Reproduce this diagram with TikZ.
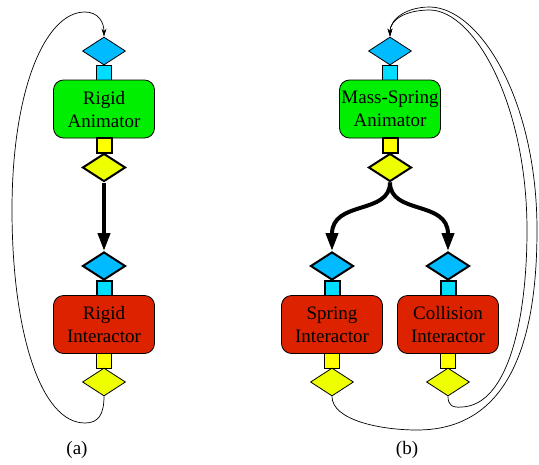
\documentclass[tikz,border=0pt]{standalone}
\usepackage{fontspec}
\setmainfont{Liberation Serif}
\usetikzlibrary{shapes.geometric,arrows.meta}

\definecolor{portblue}{HTML}{00BBFF}
\definecolor{plugcyan}{HTML}{00DDFF}
\definecolor{animgreen}{HTML}{00EE00}
\definecolor{interred}{HTML}{DD2200}
\definecolor{plugyellow}{HTML}{FFFF00}
\definecolor{portyellow}{HTML}{EEFF00}

\tikzset{
	unitbox/.style={draw, line width=0.8pt, rounded corners=10pt, minimum width=101pt, minimum height=58pt, inner sep=0pt, align=center, font=\fontsize{19}{23}\selectfont},
	animator/.style={unitbox, fill=animgreen},
	interactor/.style={unitbox, fill=interred},
	inport/.style={diamond, draw, line width=0.8pt, fill=portblue, minimum width=43pt, minimum height=28pt, inner sep=0pt},
	outport/.style={inport, fill=portyellow},
	inplug/.style={draw, line width=0.8pt, fill=plugcyan, minimum width=15pt, minimum height=15pt, inner sep=0pt},
	outplug/.style={inplug, fill=plugyellow},
	linked/.style={line width=2pt},
	flow/.style={line width=4pt, -{Triangle[length=18pt,width=12pt]}},
	feedback/.style={line width=0.7pt, -{Stealth[length=8pt,width=5pt]}},
	caption/.style={font=\fontsize{19}{23}\selectfont}
}

\begin{document}
\begin{tikzpicture}[x=1pt,y=-1pt]
				\useasboundingbox (0,0) rectangle (539,464);

				% (a) rigid body
				\node[inport] (a-in1) at (104,51) {};
				\node[inplug] (a-ip1) at (104,73) {};
				\node[animator] (a-anim) at (104,109) {Rigid\\Animator};
				\node[outplug, linked] (a-op1) at (104,145.5) {};
				\node[outport, linked] (a-out1) at (104,167.5) {};

				\node[inport, linked] (a-in2) at (104,266) {};
				\node[inplug, linked] (a-ip2) at (104,288) {};
				\node[interactor] (a-inter) at (104,324.5) {Rigid\\Interactor};
				\node[outplug] (a-op2) at (104,360.5) {};
				\node[outport] (a-out2) at (104,382) {};

				\draw[flow] (a-out1.south) -- (a-in2.north);
				\draw[feedback] (a-out2.south) .. controls (104,415) and (98,423) .. (85,423)
					.. controls (40,423) and (12,330) .. (12,210)
					.. controls (12,90) and (45,12) .. (85,12)
					.. controls (98,12) and (104,22) .. (a-in1.north);

				\node[caption] (a-cap) at (77,450) {(a)};

				% (b) mass-spring
				\node[inport] (b-in1) at (390,51) {};
				\node[inplug] (b-ip1) at (390,73) {};
				\node[animator] (b-anim) at (390,109) {Mass-Spring\\Animator};
				\node[outplug, linked] (b-op1) at (390,145.5) {};
				\node[outport, linked] (b-out1) at (390,167.5) {};

				\foreach \n/\x/\t in {s/332/Spring, c/448/Collision}
					{
						\node[inport, linked] (b-in-\n) at (\x,266) {};
						\node[inplug, linked] (b-ip-\n) at (\x,288) {};
						\node[interactor] (b-inter-\n) at (\x,324.5) {\t\\Interactor};
						\node[outplug] (b-op-\n) at (\x,360.5) {};
						\node[outport] (b-out-\n) at (\x,382) {};
						\draw[flow] (b-out1.south) .. controls (390,215) and (\x,200) .. (b-in-\n.north);
					}

				\draw[feedback] (b-out-s.south) .. controls (332,420) and (380,430) .. (417,430)
					.. controls (515,430) and (537,330) .. (537,230)
					.. controls (537,100) and (480,8) .. (430,7)
					.. controls (405,7) and (390,20) .. (b-in1.north);
				\draw[feedback] (b-out-c.south) .. controls (448,405) and (452,408) .. (462,407)
					.. controls (508,405) and (527,320) .. (527,230)
					.. controls (527,105) and (475,11) .. (430,10)
					.. controls (405,10) and (390,20) .. (b-in1.north);

				\node[caption] (b-cap) at (407,450) {(b)};
			\end{tikzpicture}
\end{document}
